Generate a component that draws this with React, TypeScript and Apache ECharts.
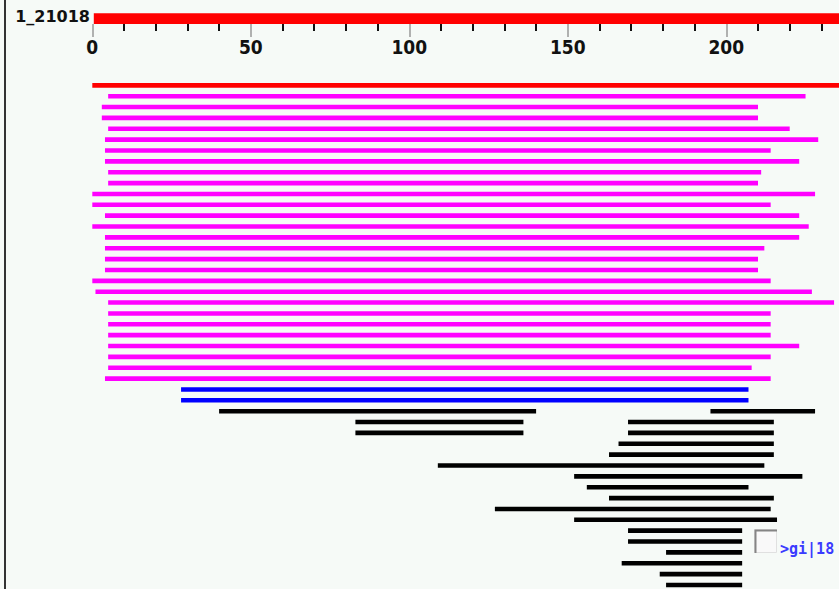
import React, { useEffect, useRef } from "react";
import * as echarts from "echarts";

// ---- data (query coordinates) ----
const queryId = "1_21018";
const axisMax = 250;
const rulerTicks = [0, 50, 100, 150, 200];
const rulerBar: number[] = [0, 250];
const queryHit: number[] = [0, 250];
const magentaHits: number[][] = [
  [5, 225], [3, 210], [3, 210], [5, 220], [4, 229], [4, 214], [4, 223], [5, 211], [5, 210],
  [0, 228], [0, 214], [4, 223], [0, 226], [4, 223], [4, 212], [4, 210], [4, 210], [0, 214],
  [1, 227], [5, 234], [5, 214], [5, 214], [5, 214], [5, 223], [5, 214], [5, 208], [4, 214],
];
const blueHits: number[][] = [
  [28, 207], [28, 207],
];
const blackHits: number[][][] = [
  [[40, 140], [195, 228]],
  [[83, 136], [169, 215]],
  [[83, 136], [169, 215]],
  [[166, 215]],
  [[163, 215]],
  [[109, 212]],
  [[152, 224]],
  [[156, 207]],
  [[163, 215]],
  [[127, 214]],
  [[152, 216]],
  [[169, 205]],
  [[169, 205]],
  [[181, 205]],
  [[167, 205]],
  [[179, 205]],
  [[181, 205]],
];
const hoverLabel = ">gi|18";

const BG = "#f6faf7";

export default function App() {
  const ref = useRef<HTMLDivElement>(null);
  useEffect(() => {
    if (!ref.current) return;
    const chart = echarts.init(ref.current, undefined, { renderer: "svg" });

    let row = 0;
    const queryData = [[queryHit[0], queryHit[1], row++]];
    const magentaData = magentaHits.map((h) => [h[0], h[1], row++]);
    const blueData = blueHits.map((h) => [h[0], h[1], row++]);
    const blackData: number[][] = [];
    blackHits.forEach((segs) => {
      const r = row++;
      segs.forEach((s) => blackData.push([s[0], s[1], r]));
    });
    const rows = Array.from({ length: row }, (_, i) => String(i));

    const renderItem = (params: any, api: any) => {
      const s = api.coord([api.value(0), api.value(2)]);
      const e = api.coord([api.value(1), api.value(2)]);
      const h = 4.6;
      return {
        type: "rect",
        shape: { x: s[0], y: s[1] - h / 2, width: e[0] - s[0], height: h },
        style: { fill: api.visual("color") },
      };
    };
    const mk = (data: number[][], color: string) => ({
      type: "custom",
      xAxisIndex: 1,
      yAxisIndex: 1,
      renderItem,
      data,
      encode: { x: [0, 1], y: 2 },
      itemStyle: { color },
      clip: false,
      silent: true,
    });

    const rulerItem = (params: any, api: any) => {
      const s = api.coord([api.value(0), 1]);
      const e = api.coord([api.value(1), 0]);
      return {
        type: "rect",
        shape: { x: s[0] + 1.5, y: s[1], width: e[0] - s[0] - 1.5, height: e[1] - s[1] },
        style: { fill: "#ff0000" },
      };
    };

    const gridLeft = 92.3;
    const unit = 3.17;
    const gridW = axisMax * unit;

    chart.setOption({
      animation: false,
      backgroundColor: BG,
      grid: [
        { left: gridLeft, top: 13.3, width: gridW, height: 10.7, outerBoundsMode: "none", containLabel: false },
        { left: gridLeft, top: 79.9, width: gridW, height: 510.5, outerBoundsMode: "none", containLabel: false },
      ],
      xAxis: [
        {
          gridIndex: 0, type: "value", position: "bottom", min: 0, max: axisMax, interval: 50,
          axisLine: { show: false },
          axisTick: { show: true, inside: false, length: 13, lineStyle: { color: "#999", width: 1.5 } },
          minorTick: { show: true, splitNumber: 5, length: 7, lineStyle: { color: "#111", width: 2 } },
          axisLabel: {
            show: true, margin: 13,
            customValues: rulerTicks,
            color: "#111", fontWeight: "bold", fontSize: 19,
            fontFamily: "'Liberation Sans Narrow', 'DejaVu Sans Condensed', sans-serif",
          },
          splitLine: { show: false },
        },
        { gridIndex: 1, type: "value", min: 0, max: axisMax, show: false },
      ],
      yAxis: [
        { gridIndex: 0, type: "value", min: 0, max: 1, show: false },
        { gridIndex: 1, type: "category", inverse: true, data: rows, show: false },
      ],
      series: [
        {
          type: "custom", xAxisIndex: 0, yAxisIndex: 0, renderItem: rulerItem,
          data: [rulerBar], encode: { x: [0, 1] }, clip: false, silent: true, z: 1,
        },
        mk(queryData, "#ff0000"),
        mk(magentaData, "#ff00ff"),
        mk(blueData, "#0000ff"),
        mk(blackData, "#000000"),
      ],
      graphic: [
        { type: "rect", shape: { x: 4, y: 0, width: 2, height: 589 }, style: { fill: "#333" }, silent: true },
        {
          type: "text", x: 90, y: 16,
          style: {
            text: queryId, align: "right", verticalAlign: "middle",
            font: "bold 16px 'DejaVu Sans'", fill: "#111",
          },
          silent: true,
        },
        { type: "rect", shape: { x: 754.5, y: 529.5, width: 22, height: 23 }, style: { fill: "#f9f9f9", stroke: "#e0e0e0", lineWidth: 1 }, silent: true },
        { type: "polyline", shape: { points: [[755.5, 553], [755.5, 530.5], [777, 530.5]] }, style: { stroke: "#858585", lineWidth: 2, fill: null }, silent: true },
        {
          type: "text", x: 780, y: 549,
          style: {
            text: hoverLabel, align: "left", verticalAlign: "middle",
            font: "bold 15px 'DejaVu Sans Mono'", fill: "#3b3bff",
          },
          silent: true,
        },
      ],
    });
    return () => chart.dispose();
  }, []);
  return (
    <div style={{ position: "fixed", left: 0, top: 0, width: 839, height: 589, overflow: "hidden", background: BG }}>
      <div ref={ref} style={{ width: 839, height: 589 }} />
    </div>
  );
}
